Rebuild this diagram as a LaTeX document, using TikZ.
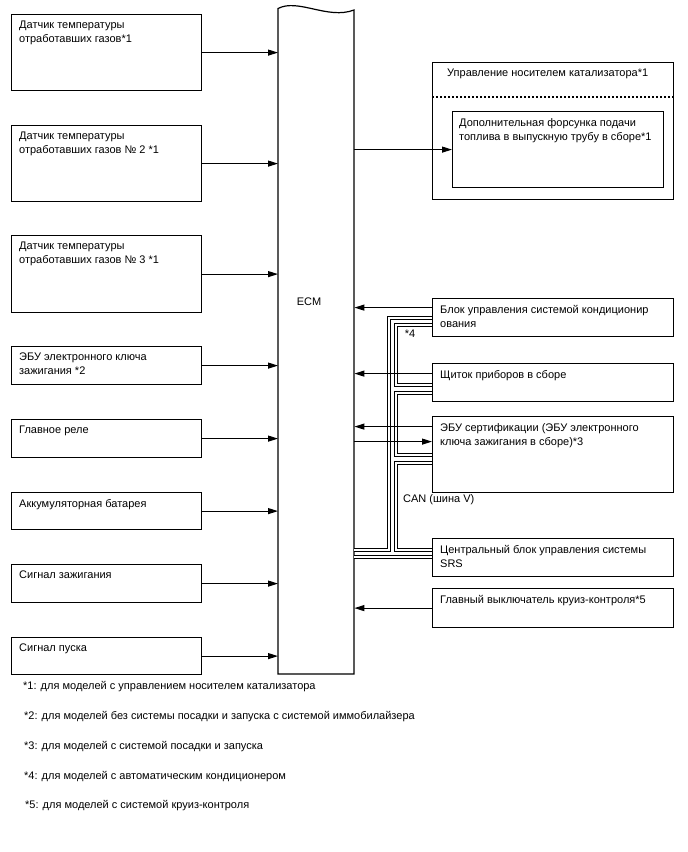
\documentclass[tikz,border=0pt]{standalone}
\usepackage{fontspec}
\setmainfont{Liberation Sans}
\usetikzlibrary{arrows.meta, positioning}

\begin{document}
\begin{tikzpicture}[x=1pt, y=-1pt,
    font=\fontsize{11}{14}\selectfont,
    unit/.style={draw, line width=1.2pt, anchor=north west, inner sep=0pt, minimum width=190pt},
    txt/.style={anchor=north west, inner sep=0pt, xshift=8pt, yshift=-7pt, align=left},
    sig/.style={line width=1.1pt, -{Triangle[length=10pt, width=6pt]}},
    can/.style={double, double distance=1.3pt, line width=1.4pt},
    note/.style={anchor=west, inner sep=0pt}]
    \useasboundingbox (0,0) rectangle (688,852);

    % ECM
    \node[anchor=north west, inner sep=0pt, minimum width=76pt, minimum height=665pt] (ecm) at (278,9) {};
    \draw[line width=1.2pt] (278,674) -- (278,8.5) .. controls (298,-2) and (328,20) .. (354,10) -- (354,674) -- cycle;
    \node (ecmlbl) at (309,302) {ECM};

    % Inputs
    \node[unit, minimum height=76pt, label={[txt]north west:Датчик температуры\\отработавших газов*1}] (s1) at (11,14) {};
    \node[unit, minimum height=76pt, label={[txt]north west:Датчик температуры\\отработавших газов № 2 *1}] (s2) at (11,125) {};
    \node[unit, minimum height=77pt, label={[txt]north west:Датчик температуры\\отработавших газов № 3 *1}] (s3) at (11,235) {};
    \node[unit, minimum height=38pt, label={[txt]north west:ЭБУ электронного ключа\\зажигания *2}] (s4) at (11,346) {};
    \node[unit, minimum height=38pt, label={[txt]north west:Главное реле}] (s5) at (11,419) {};
    \node[unit, minimum height=37pt, label={[txt]north west:Аккумуляторная батарея}] (s6) at (11,492) {};
    \node[unit, minimum height=38pt, label={[txt]north west:Сигнал зажигания}] (s7) at (11,564) {};
    \node[unit, minimum height=37pt, label={[txt]north west:Сигнал пуска}] (s8) at (11,637) {};

    % Catalyst control
    \node[unit, minimum width=241pt, minimum height=137pt, label={[txt, xshift=7pt]north west:Управление носителем катализатора*1}] (cat) at (432,62) {};
    \node[unit, minimum width=211pt, minimum height=76pt, label={[txt, xshift=-1pt]north west:Дополнительная форсунка подачи\\топлива в выпускную трубу в сборе*1}] (inj) at (452,111) {};
    \draw[line width=1.1pt, dash pattern=on 2pt off 2pt] ([yshift=-35pt]cat.north west) -- ([yshift=-35pt]cat.north east);

    % Other units
    \node[unit, minimum width=241pt, minimum height=38pt, label={[txt]north west:Блок управления системой кондиционир\\ования}] (ac) at (432,298) {};
    \node[unit, minimum width=241pt, minimum height=38pt, label={[txt]north west:Щиток приборов в сборе}] (ip) at (432,363) {};
    \node[unit, minimum width=241pt, minimum height=76pt, label={[txt]north west:ЭБУ сертификации (ЭБУ электронного\\ключа зажигания в сборе)*3}] (cert) at (432,416) {};
    \node[unit, minimum width=241pt, minimum height=38pt, label={[txt]north west:Центральный блок управления системы\\SRS}] (srs) at (432,538) {};
    \node[unit, minimum width=241pt, minimum height=39pt, label={[txt]north west:Главный выключатель круиз-контроля*5}] (cruise) at (432,588) {};

    % CAN bus
    \coordinate (bo) at (389,0);
    \coordinate (bi) at (396,0);
    \coordinate (ac1) at ([yshift=-20pt]ac.north west);
    \coordinate (ac2) at ([yshift=-27pt]ac.north west);
    \coordinate (ip1) at ([yshift=-22pt]ip.north west);
    \coordinate (ip2) at ([yshift=-30pt]ip.north west);
    \coordinate (ce1) at ([yshift=-39pt]cert.north west);
    \coordinate (ce2) at ([yshift=-47pt]cert.north west);
    \coordinate (srs1) at ([yshift=-12pt]srs.north west);
    \coordinate (srs2) at ([yshift=-19pt]srs.north west);
    \draw[can] (ecm.east |- srs1) -- (bo |- srs1) -- (bo |- ac1) -- (ac1);
    \draw[can] (ac2) -- (bi |- ac2) -- (bi |- ip1) -- (ip1);
    \draw[can] (ip2) -- (bi |- ip2) -- (bi |- ce1) -- (ce1);
    \draw[can] (ce2) -- (bi |- ce2) -- (bi |- srs1) -- (srs1);
    \draw[can] (ecm.east |- srs2) -- (srs2);
    \node (n4) at (410,334) {*4};
    \node[note] (canlbl) at (403,500) {CAN (шина V)};

    % Signals
    \foreach \s in {s1,s2,s3,s4,s5,s6,s7,s8}
        \draw[sig] (\s.east) -- (\s.east -| ecm.west);
    \coordinate (acout) at ([yshift=-9.6pt]ac.north west);
    \coordinate (ipout) at ([yshift=-10.6pt]ip.north west);
    \coordinate (ceout) at ([yshift=-10.6pt]cert.north west);
    \coordinate (cein) at ([yshift=-25.6pt]cert.north west);
    \draw[sig] (ecm.east |- inj.west) -- (inj.west);
    \draw[sig] (acout) -- (acout -| ecm.east);
    \draw[sig] (ipout) -- (ipout -| ecm.east);
    \draw[sig] (ceout) -- (ceout -| ecm.east);
    \draw[sig] (cein -| ecm.east) -- (cein);
    \draw[sig] (cruise.west) -- (cruise.west -| ecm.east);

    % Notes
    \node[note] (f1) at (23,687) {*1: для моделей с управлением носителем катализатора};
    \node[note] (f2) at (24,717) {*2: для моделей без системы посадки и запуска с системой иммобилайзера};
    \node[note] (f3) at (24,747) {*3: для моделей с системой посадки и запуска};
    \node[note] (f4) at (24,777) {*4: для моделей с автоматическим кондиционером};
    \node[note] (f5) at (25,806) {*5: для моделей с системой круиз-контроля};
\end{tikzpicture}
\end{document}
